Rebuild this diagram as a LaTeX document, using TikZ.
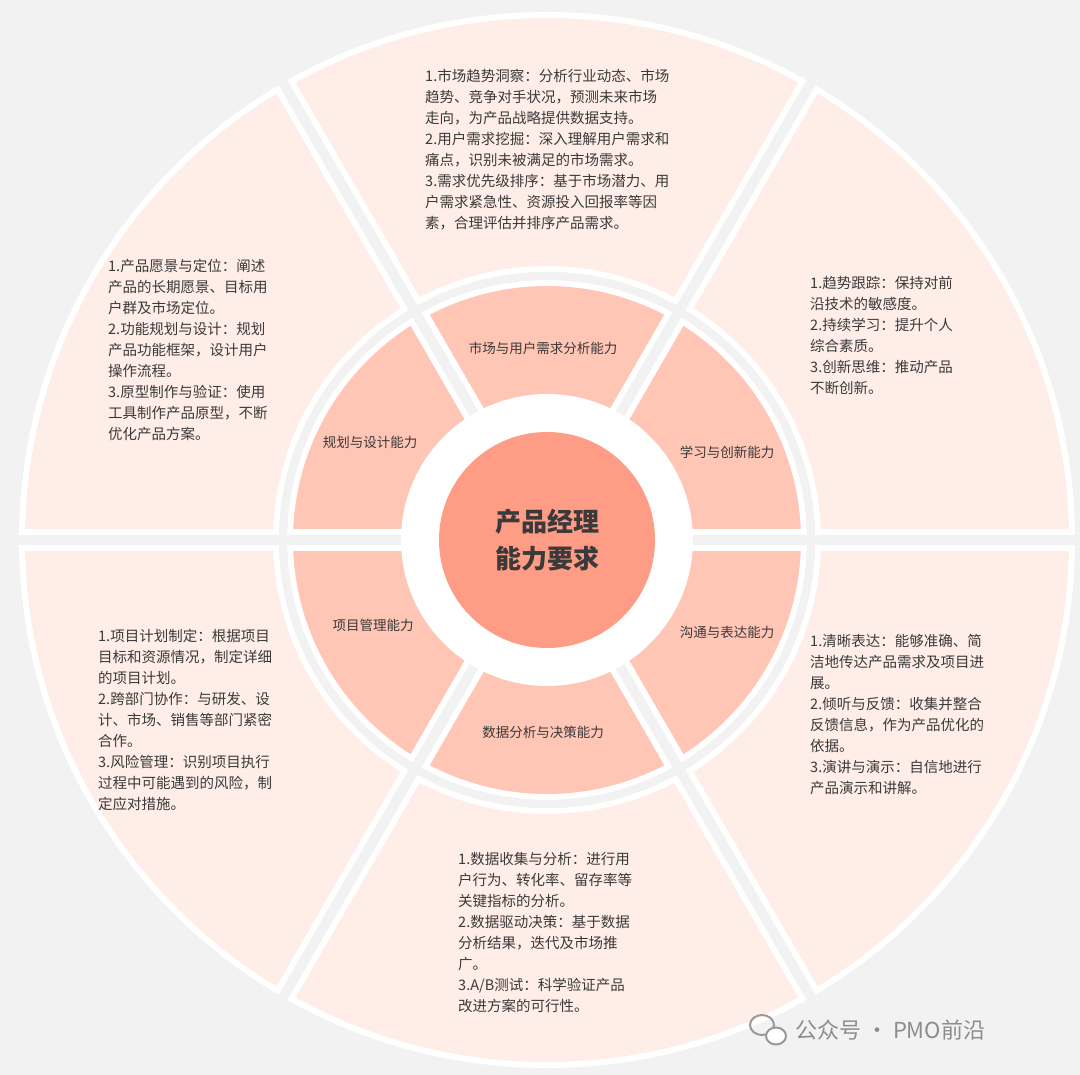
\documentclass[tikz,border=0pt]{standalone}
\usepackage{fontspec}
\setmainfont{Noto Sans CJK SC}
\definecolor{bg}{HTML}{F2F2F2}
\definecolor{outerc}{HTML}{FFEDE8}
\definecolor{innerc}{HTML}{FFC5B5}
\definecolor{centerc}{HTML}{FF9C85}
\definecolor{txt}{HTML}{3A3A3A}
\tikzset{
  desc/.style={anchor=north west,align=left,inner sep=0pt,text=txt,font=\fontsize{14.5}{21}\selectfont},
  lab/.style={inner sep=0pt,text=txt,font=\fontsize{13.5}{16}\selectfont},
}
\begin{document}
\begin{tikzpicture}[x=1pt,y=-1pt]
\useasboundingbox (0,0) rectangle (1080,1075);
\fill[bg] (0,0) rectangle (1080,1075);
\coordinate (c) at (547,540);
% rings
\fill[outerc,even odd rule] (c) circle[radius=522] (c) circle[radius=273];
\draw[white,line width=6] (c) circle[radius=525];
\draw[white,line width=6] (c) circle[radius=271];
\fill[innerc,even odd rule] (c) circle[radius=255] (c) circle[radius=140];
\draw[white,line width=6] (c) circle[radius=257];
\foreach \a in {0,60,120,180,240,300}{
  \draw[white,line width=22] ([shift={(\a:140)}]c) -- ([shift={(\a:260)}]c);
  \draw[white,line width=22] ([shift={(\a:268)}]c) -- ([shift={(\a:527)}]c);
}
\draw[bg,line width=8] (c) circle[radius=264];
\foreach \a in {0,60,120,180,240,300}{
  \draw[bg,line width=10] ([shift={(\a:140)}]c) -- ([shift={(\a:545)}]c);
}
\fill[white] (c) circle[radius=146];
\node[circle,fill=centerc,minimum size=216,inner sep=0pt,text=txt,align=center,
  font=\fontsize{26}{37}\selectfont\bfseries] (center) at (c) {产品经理\\能力要求};
% inner labels
\node[lab] (l1) at (543,348) {市场与用户需求分析能力};
\node[lab] (l2) at (727,452) {学习与创新能力};
\node[lab] (l3) at (727,632) {沟通与表达能力};
\node[lab] (l4) at (543,732) {数据分析与决策能力};
\node[lab] (l5) at (373,625) {项目管理能力};
\node[lab] (l6) at (370,442) {规划与设计能力};
% outer texts
\node[desc] (t1) at (425,69) {1.市场趋势洞察：分析行业动态、市场\\趋势、竞争对手状况，预测未来市场\\走向，为产品战略提供数据支持。\\2.用户需求挖掘：深入理解用户需求和\\痛点，识别未被满足的市场需求。\\3.需求优先级排序：基于市场潜力、用\\户需求紧急性、资源投入回报率等因\\素，合理评估并排序产品需求。};
\node[desc] (t2) at (810,276) {1.趋势跟踪：保持对前\\沿技术的敏感度。\\2.持续学习：提升个人\\综合素质。\\3.创新思维：推动产品\\不断创新。};
\node[desc] (t3) at (810,634) {1.清晰表达：能够准确、简\\洁地传达产品需求及项目进\\展。\\2.倾听与反馈：收集并整合\\反馈信息，作为产品优化的\\依据。\\3.演讲与演示：自信地进行\\产品演示和讲解。};
\node[desc] (t4) at (458,852) {1.数据收集与分析：进行用\\户行为、转化率、留存率等\\关键指标的分析。\\2.数据驱动决策：基于数据\\分析结果，迭代及市场推\\广。\\3.A/B测试：科学验证产品\\改进方案的可行性。};
\node[desc] (t5) at (98,629) {1.项目计划制定：根据项目\\目标和资源情况，制定详细\\的项目计划。\\2.跨部门协作：与研发、设\\计、市场、销售等部门紧密\\合作。\\3.风险管理：识别项目执行\\过程中可能遇到的风险，制\\定应对措施。};
\node[desc] (t6) at (108,259) {1.产品愿景与定位：阐述\\产品的长期愿景、目标用\\户群及市场定位。\\2.功能规划与设计：规划\\产品功能框架，设计用户\\操作流程。\\3.原型制作与验证：使用\\工具制作产品原型，不断\\优化产品方案。};
% watermark
\draw[gray!80,line width=2] (762,1025) ellipse[x radius=12,y radius=10];
\draw[gray!80,line width=2,fill=white] (776,1036) ellipse[x radius=10,y radius=8.5];
\node[anchor=west,inner sep=0pt,text=gray!90,font=\fontsize{22}{24}\selectfont] (wm) at (795,1030) {公众号 · PMO前沿};
\end{tikzpicture}
\end{document}
